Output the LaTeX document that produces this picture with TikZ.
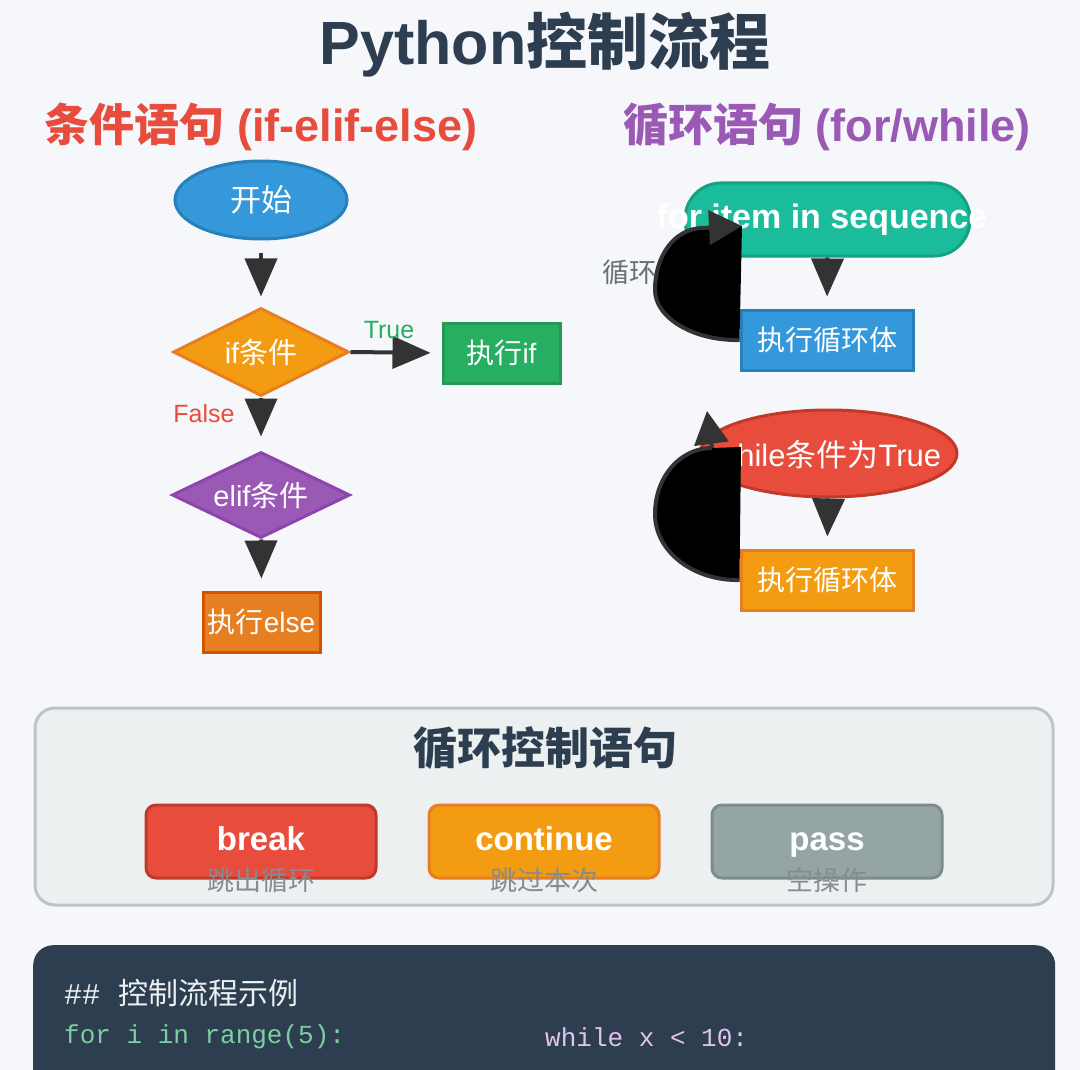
\documentclass[tikz,border=0pt]{standalone}
\usepackage{fontspec}
\setmainfont{Liberation Sans}
\setmonofont{Liberation Mono}
\newfontfamily\cjk{Noto Sans CJK SC}
\usetikzlibrary{arrows.meta,shapes.geometric}
\definecolor{bg}{HTML}{F5F7FA}
\definecolor{cdark}{HTML}{2C3E50}
\definecolor{cblue}{HTML}{3498DB}
\definecolor{cbluedk}{HTML}{2980B9}
\definecolor{corange}{HTML}{F39C12}
\definecolor{corangedk}{HTML}{E67E22}
\definecolor{cpump}{HTML}{E67E22}
\definecolor{cpumpdk}{HTML}{D35400}
\definecolor{cgreen}{HTML}{27AE60}
\definecolor{cgreendk}{HTML}{229954}
\definecolor{cpurple}{HTML}{9B59B6}
\definecolor{cpurpledk}{HTML}{8E44AD}
\definecolor{cteal}{HTML}{1ABC9C}
\definecolor{ctealdk}{HTML}{16A085}
\definecolor{cred}{HTML}{E74C3C}
\definecolor{creddk}{HTML}{C0392B}
\definecolor{cgray}{HTML}{95A5A6}
\definecolor{cgraydk}{HTML}{7F8C8D}
\definecolor{cpanel}{HTML}{ECF0F1}
\definecolor{cpanelbd}{HTML}{BDC3C7}
\definecolor{carrow}{HTML}{333333}
\definecolor{subgray}{HTML}{858C8F}
\definecolor{codegreen}{HTML}{7DCEA0}
\definecolor{codepink}{HTML}{E2C4EA}
\definecolor{codewhite}{HTML}{ECF0F1}
\newcommand\fsz[1]{\fontsize{#1}{#1}\selectfont}
\begin{document}
\begin{tikzpicture}[x=1pt,y=-1pt,
  shp/.style={line width=3pt, inner sep=0pt, text=white},
  ell/.style={shp, ellipse},
  dia/.style={shp, diamond, aspect=2},
  box/.style={shp, rectangle},
  flowarr/.style={draw=carrow, line width=4pt, -{Triangle[width=32pt,length=38pt]}},
  loopline/.style={draw=carrow, line width=4pt},
  looptip/.style={-{Triangle[width=34pt,length=33pt]}},
  lbl/.style={inner sep=0pt},
  btn/.style={shp, rounded corners=10pt, minimum width=230, minimum height=73, text height=24pt, text depth=7pt, font=\fsz{33}\bfseries},
  sub/.style={lbl, text=subgray, font=\fsz{27}\cjk}
]
\clip (0,0) rectangle (1080,1070);
\fill[bg] (0,0) rectangle (1080,1070);

% titles
\node[lbl, text=cdark, font=\fsz{61}\bfseries] (title) at (545,45) {Python{\cjk 控制流程}};
\node[lbl, text=cred, font=\fsz{45}\bfseries] (subl) at (261,127) {{\cjk 条件语句} (if-elif-else)};
\node[lbl, text=cpurple, font=\fsz{45}\bfseries] (subr) at (827,127) {{\cjk 循环语句} (for/while)};

% left: conditional flow
\node[ell, fill=cblue, draw=cbluedk, minimum width=172, minimum height=78, font=\fsz{31}\cjk] (start) at (261,200) {开始};
\node[dia, fill=corange, draw=corangedk, minimum width=176, minimum height=88, font=\fsz{29}] (ifd) at (261,352) {if{\cjk 条件}};
\node[box, fill=cgreen, draw=cgreendk, minimum width=117, minimum height=60, font=\fsz{28}] (ifbox) at (501.5,353) {{\cjk 执行}if};
\node[dia, fill=cpurple, draw=cpurpledk, minimum width=178, minimum height=86, font=\fsz{29}] (elifd) at (261,495) {elif{\cjk 条件}};
\node[box, fill=cpump, draw=cpumpdk, minimum width=117, minimum height=60, font=\fsz{28}] (elsebox) at (261.5,622) {{\cjk 执行}else};

\draw[flowarr, shorten <=12pt, shorten >=10pt] (start) -- (ifd);
\draw[flowarr, shorten >=11pt] (ifd.east) -- (ifbox.west);
\draw[flowarr, shorten >=14pt] (ifd.south) -- (elifd.north);
\draw[flowarr, shorten >=12pt] (elifd.south) -- (elsebox.north);
\node[lbl, text=cgreen, font=\fsz{25}] (truel) at (389,330) {True};
\node[lbl, text=cred, font=\fsz{25}] (falsel) at (204,414) {False};

% right: loops
\node[shp, fill=cteal, draw=ctealdk, rounded corners=36pt, minimum width=285, minimum height=73] (for) at (827.5,219.5) {};
\node[lbl, text=white, font=\fsz{34}\bfseries] (fortext) at (822,220) {for item in sequence};
\node[box, fill=cblue, draw=cbluedk, minimum width=172, minimum height=60, font=\fsz{28}\cjk] (body1) at (827,340) {执行循环体};
\draw[flowarr, shorten >=12pt] (for.south) -- (body1.north);

\node[ell, fill=cred, draw=creddk, minimum width=257, minimum height=87] (wh) at (828.5,453.5) {};
\node[lbl, text=white, font=\fsz{31}] (whtext) at (828,455) {while{\cjk 条件为}True};
\node[box, fill=corange, draw=corangedk, minimum width=172, minimum height=60, font=\fsz{28}\cjk] (body2) at (827,580) {执行循环体};
\draw[flowarr, shorten >=12pt] (wh.south) -- (body2.north);

% loop back connectors
\node[lbl, text=subgray!80!black, font=\fsz{27}\cjk] (looplbl) at (629,272) {循环};
\coordinate (forbend) at (702,228);
\coordinate (forin) at (742,226);
\fill[black] (body1.west) .. controls (694,341) and (655,318) .. (655,290) .. controls (655,256) and (674,229) .. (forbend) -- (forin) -- cycle;
\draw[loopline] (body1.west) .. controls (694,341) and (655,318) .. (655,290) .. controls (655,256) and (674,229) .. (forbend);
\draw[loopline, looptip] (forbend) -- (forin);

\coordinate (whbend) at (712,448);
\coordinate (whin) at (707,411);
\fill[black] (body2.west) .. controls (694,581) and (655,552) .. (655,514) .. controls (655,477) and (680,448) .. (whbend) -- (741,447) -- cycle;
\draw[loopline] (body2.west) .. controls (694,581) and (655,552) .. (655,514) .. controls (655,477) and (680,448) .. (whbend);
\draw[loopline, looptip] (whbend) -- (whin);

% control statements panel
\node[draw=cpanelbd, fill=cpanel, line width=3pt, rounded corners=20pt, minimum width=1018, minimum height=197, inner sep=0pt] (panel) at (544,806.5) {};
\node[lbl, text=cdark, font=\fsz{44}\cjk\bfseries] (ptitle) at (545,748) {循环控制语句};
\node[btn, fill=cred, draw=creddk] (brk) at (261,841.5) {break};
\node[btn, fill=corange, draw=corangedk] (cont) at (544,841.5) {continue};
\node[btn, fill=cgray, draw=cgraydk] (pass) at (827,841.5) {pass};
\node[sub] (brksub) at (261,880) {跳出循环};
\node[sub] (contsub) at (544,880) {跳过本次};
\node[sub] (passsub) at (827,880) {空操作};

% code panel
\node[fill=cdark, rounded corners=20pt, minimum width=1022, minimum height=200, inner sep=0pt, anchor=north west] (code) at (33,945) {};
\node[lbl, anchor=west, text=codewhite, font=\fsz{30}\ttfamily] (codeh) at (64,993) {\#\# {\cjk 控制流程示例}};
\node[lbl, anchor=west, text=codegreen, font=\fsz{26}\ttfamily] (code1) at (64,1037) {for i in range(5):};
\node[lbl, anchor=west, text=codepink, font=\fsz{26}\ttfamily] (code2) at (545,1037) {while x < 10:};
\end{tikzpicture}
\end{document}
